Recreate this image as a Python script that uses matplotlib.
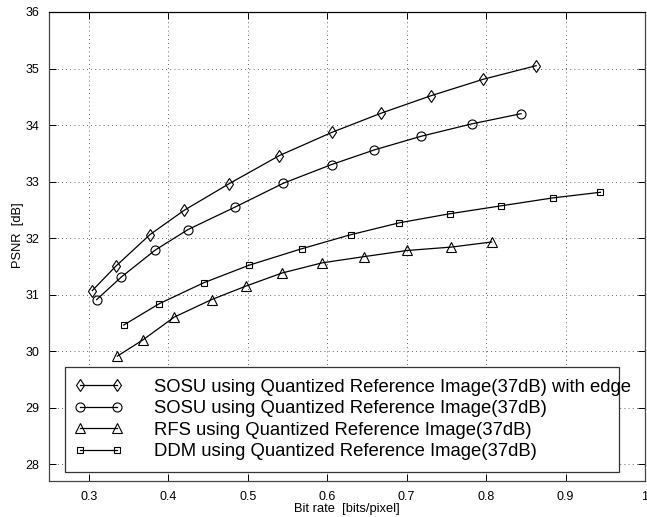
import matplotlib
matplotlib.use("Agg")
import matplotlib.pyplot as plt
from matplotlib.patches import Rectangle

plt.rcParams['font.family'] = ['Liberation Sans', 'DejaVu Sans']

# Data
sosu_edge_x = [0.3045, 0.334, 0.377, 0.420, 0.4765, 0.540, 0.606, 0.668, 0.731, 0.7965, 0.863]
sosu_edge_y = [31.07, 31.50, 32.06, 32.49, 32.96, 33.46, 33.87, 34.21, 34.52, 34.81, 35.05]

sosu_x = [0.310, 0.341, 0.384, 0.425, 0.4845, 0.545, 0.6055, 0.6595, 0.718, 0.782, 0.844]
sosu_y = [30.91, 31.31, 31.79, 32.15, 32.55, 32.97, 33.30, 33.56, 33.80, 34.02, 34.20]

rfs_x = [0.336, 0.3685, 0.4075, 0.4545, 0.498, 0.543, 0.5935, 0.646, 0.701, 0.7565, 0.807]
rfs_y = [29.91, 30.20, 30.60, 30.91, 31.15, 31.38, 31.56, 31.67, 31.78, 31.84, 31.93]

ddm_x = [0.344, 0.389, 0.445, 0.502, 0.568, 0.630, 0.691, 0.7545, 0.819, 0.884, 0.944]
ddm_y = [30.46, 30.84, 31.21, 31.52, 31.81, 32.06, 32.27, 32.43, 32.57, 32.71, 32.81]

labels = [
    "SOSU using Quantized Reference Image(37dB) with edge",
    "SOSU using Quantized Reference Image(37dB)",
    "RFS using Quantized Reference Image(37dB)",
    "DDM using Quantized Reference Image(37dB)",
]
xticks = [0.3, 0.4, 0.5, 0.6, 0.7, 0.8, 0.9, 1.0]
xticklabels = ["0.3", "0.4", "0.5", "0.6", "0.7", "0.8", "0.9", "1"]
yticks = [28, 29, 30, 31, 32, 33, 34, 35, 36]

fig = plt.figure(figsize=(6.47, 5.17), dpi=100)
ax = fig.add_axes([49/647, 1-481/517, 596/647, 469/517])

series = [
    (sosu_edge_x, sosu_edge_y, 'd', 6.5),
    (sosu_x, sosu_y, 'o', 6.5),
    (rfs_x, rfs_y, '^', 7),
    (ddm_x, ddm_y, 's', 5),
]
for (x, y, m, ms), lab in zip(series, labels):
    ax.plot(x, y, color='black', lw=0.9, marker=m, ms=ms, mfc='none',
            mec='black', mew=0.8, label=lab)

ax.set_xlim(0.25, 1.0)
ax.set_ylim(27.7, 36)
ax.set_xticks(xticks)
ax.set_xticklabels(xticklabels)
ax.set_yticks(yticks)
ax.tick_params(direction='in', length=5, width=0.7, top=True, right=True,
               labelsize=9, pad=7)
ax.grid(True, linestyle=(0, (1, 4)), color='black', linewidth=0.6, alpha=0.8)
for s in ax.spines.values():
    s.set_linewidth(0.9)
    s.set_color('#444444')
ax.spines['top'].set_color('black')

ax.set_xlabel("Bit rate  [bits/pixel]", fontsize=9.3, labelpad=0)
ax.set_ylabel("PSNR  [dB]", fontsize=9.3)
ax.yaxis.set_label_coords(-0.042, 0.525)

# Legend frame
ax.add_patch(Rectangle((16/596, 9/469), 554/596, 105/469, transform=ax.transAxes,
                       facecolor='white', edgecolor='#333333', lw=0.9, zorder=4))
leg = ax.legend(loc='upper left', bbox_to_anchor=(22/596, 106/469),
                frameon=False, fontsize=13.3, numpoints=2, handlelength=2.6,
                handletextpad=1.7, labelspacing=0.24, borderpad=0.2,
                borderaxespad=0)
leg.set_zorder(5)

fig.savefig("out.png", dpi=100)
